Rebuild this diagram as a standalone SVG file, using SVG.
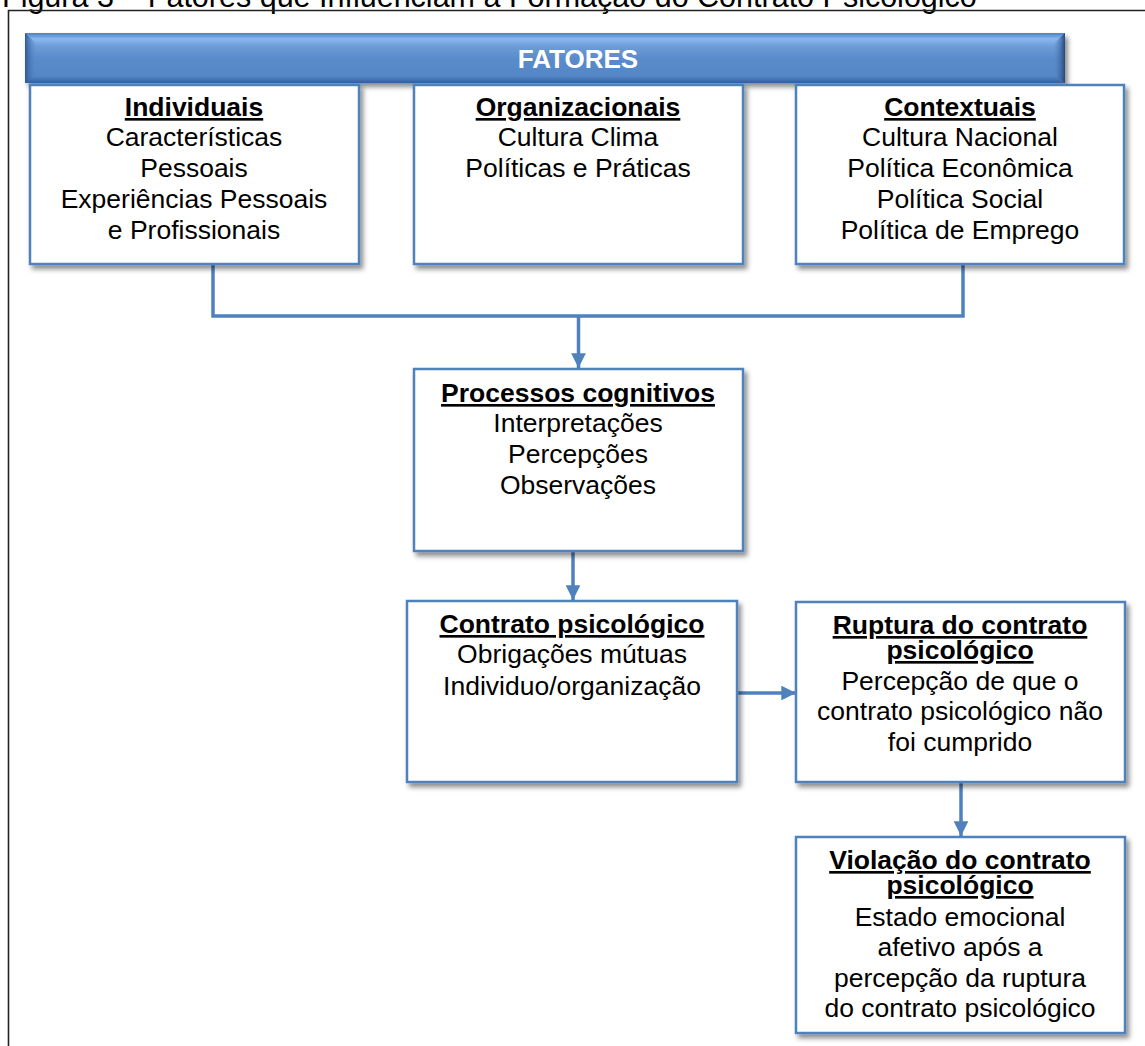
<svg xmlns="http://www.w3.org/2000/svg" width="1145" height="1046" viewBox="0 0 1145 1046">
<defs>
<style>
text{font-family:"Liberation Sans",Arial,sans-serif;fill:#000;text-anchor:middle}
.t{font-size:26.5px}
.h{font-size:26.5px;font-weight:bold;text-decoration:underline}
.box{fill:#fff;stroke:#4f81bd;stroke-width:2.5}
.con{fill:none;stroke:#4f81bd;stroke-width:3.5}
</style>
<filter id="sh" x="-10%" y="-10%" width="125%" height="130%">
<feDropShadow dx="3" dy="4" stdDeviation="2.5" flood-color="#000" flood-opacity="0.45"/>
</filter>
<linearGradient id="bg" x1="0" y1="0" x2="0" y2="1">
<stop offset="0" stop-color="#4d7fc0"/>
<stop offset="0.12" stop-color="#8ab8ee"/>
<stop offset="0.26" stop-color="#6e9dd8"/>
<stop offset="0.5" stop-color="#5a8bcb"/>
<stop offset="0.86" stop-color="#5686c6"/>
<stop offset="1" stop-color="#30609e"/>
</linearGradient>
<linearGradient id="bl" x1="0" y1="0" x2="1" y2="0">
<stop offset="0" stop-color="#2d5a96"/>
<stop offset="1" stop-color="#5a8bcb" stop-opacity="0"/>
</linearGradient>
<linearGradient id="br" x1="1" y1="0" x2="0" y2="0">
<stop offset="0" stop-color="#24487c"/>
<stop offset="1" stop-color="#5a8bcb" stop-opacity="0"/>
</linearGradient>
<marker id="ah" viewBox="0 0 10 10" refX="10" refY="5" markerWidth="4.2" markerHeight="4.2" orient="auto" markerUnits="strokeWidth">
<path d="M0,0 L10,5 L0,10 Z" fill="#4f81bd"/>
</marker>
</defs>

<text x="2" y="7" style="font-size:30.5px;text-anchor:start">Figura 3 – Fatores que Influenciam a Formação do Contrato Psicológico</text>
<path d="M8.5,1046 V10.5 H1145" fill="none" stroke="#222" stroke-width="1.6"/>

<g id="fatores">
<rect x="25" y="33" width="1040" height="50" fill="url(#bg)" filter="url(#sh)"/>
<polygon points="25,33 37,44 37,73 25,83" fill="url(#bl)"/>
<polygon points="1065,33 1053,44 1053,73 1065,83" fill="url(#br)"/>
<text x="578" y="68" style="font-size:26px;font-weight:bold;fill:#fff">FATORES</text>
</g>

<g id="connectors">
<polyline class="con" points="213,264 213,316 963,316 963,264"/>
<line class="con" x1="578.5" y1="316" x2="578.5" y2="368" marker-end="url(#ah)"/>
<line class="con" x1="573" y1="551" x2="573" y2="600" marker-end="url(#ah)"/>
<line class="con" x1="737" y1="693" x2="796" y2="693" marker-end="url(#ah)"/>
<line class="con" x1="961" y1="782" x2="961" y2="836" marker-end="url(#ah)"/>
</g>

<g id="individuais">
<rect class="box" x="30" y="85" width="329" height="179" filter="url(#sh)"/>
<text class="h" x="194" y="116">Individuais</text>
<text class="t" x="194" y="146">Características</text>
<text class="t" x="194" y="177">Pessoais</text>
<text class="t" x="194" y="208">Experiências Pessoais</text>
<text class="t" x="194" y="239">e Profissionais</text>
</g>

<g id="organizacionais">
<rect class="box" x="414" y="85" width="329" height="179" filter="url(#sh)"/>
<text class="h" x="578" y="116">Organizacionais</text>
<text class="t" x="578" y="146">Cultura Clima</text>
<text class="t" x="578" y="177">Políticas e Práticas</text>
</g>

<g id="contextuais">
<rect class="box" x="796" y="85" width="328" height="179" filter="url(#sh)"/>
<text class="h" x="960" y="116">Contextuais</text>
<text class="t" x="960" y="146">Cultura Nacional</text>
<text class="t" x="960" y="177">Política Econômica</text>
<text class="t" x="960" y="208">Política Social</text>
<text class="t" x="960" y="239">Política de Emprego</text>
</g>

<g id="processos">
<rect class="box" x="414" y="369" width="329" height="182" filter="url(#sh)"/>
<text class="h" x="578" y="402">Processos cognitivos</text>
<text class="t" x="578" y="432">Interpretações</text>
<text class="t" x="578" y="463">Percepções</text>
<text class="t" x="578" y="494">Observações</text>
</g>

<g id="contrato">
<rect class="box" x="407" y="601" width="330" height="181" filter="url(#sh)"/>
<text class="h" x="572" y="633">Contrato psicológico</text>
<text class="t" x="572" y="663">Obrigações mútuas</text>
<text class="t" x="572" y="695">Individuo/organização</text>
</g>

<g id="ruptura">
<rect class="box" x="796" y="602" width="329" height="180" filter="url(#sh)"/>
<text class="h" x="960" y="634">Ruptura do contrato</text>
<text class="h" x="960" y="659">psicológico</text>
<text class="t" x="960" y="690">Percepção de que o</text>
<text class="t" x="960" y="720">contrato psicológico não</text>
<text class="t" x="960" y="751">foi cumprido</text>
</g>

<g id="violacao">
<rect class="box" x="796" y="837" width="329" height="196" filter="url(#sh)"/>
<text class="h" x="960" y="869">Violação do contrato</text>
<text class="h" x="960" y="894">psicológico</text>
<text class="t" x="960" y="926">Estado emocional</text>
<text class="t" x="960" y="956">afetivo após a</text>
<text class="t" x="960" y="987">percepção da ruptura</text>
<text class="t" x="960" y="1017">do contrato psicológico</text>
</g>
</svg>
